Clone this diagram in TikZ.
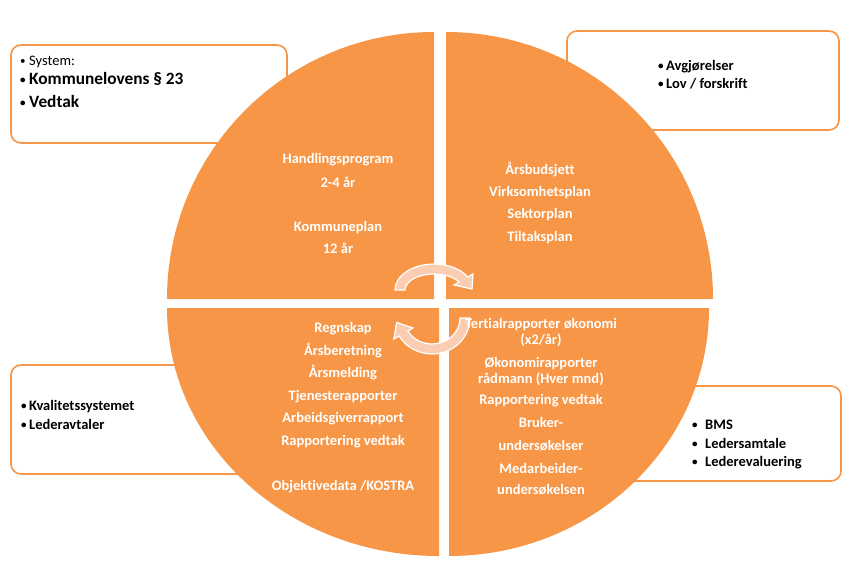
\documentclass[tikz,border=0pt]{standalone}
\usepackage{fontspec}
\setmainfont{Carlito}[Ligatures={NoCommon}]
\definecolor{qorange}{HTML}{F79646}
\definecolor{apeach}{HTML}{FBCDB3}
\newcommand{\bul}[1]{\makebox[#1][l]{\raisebox{0.9pt}{\fontsize{11}{11}\selectfont •}}}
\begin{document}
\begin{tikzpicture}[x=1pt,y=-1pt,
  quad/.style={fill=qorange},
  infobox/.style={draw=qorange,line width=1.6pt,rounded corners=10pt,fill=white,inner sep=0pt},
  qtext/.style={font=\bfseries\fontsize{14.5}{17}\selectfont,text=white,inner sep=0pt,text height=0.65em,text depth=0.22em,anchor=center,yshift=-3pt},
  btext/.style={font=\bfseries\fontsize{14.5}{17}\selectfont,text=black,inner sep=0pt,text height=0.65em,text depth=0.22em,anchor=west,yshift=-3pt},
  bbig/.style={btext,font=\bfseries\fontsize{17.3}{20}\selectfont},
  breg/.style={btext,font=\fontsize{14.5}{17}\selectfont},
  cyc/.style={fill=apeach,draw=white,line width=1.2pt}]
\useasboundingbox (0,0) rectangle (843,570);
% info boxes (behind the circle)
\node[infobox,minimum width=276pt,minimum height=98pt] (b1) at (149,94) {};
\node[infobox,minimum width=272pt,minimum height=99pt] (b2) at (703,80.5) {};
\node[infobox,minimum width=249pt,minimum height=109pt] (b3) at (135.5,419.5) {};
\node[infobox,minimum width=221pt,minimum height=95pt] (b4) at (730.5,433.5) {};
% quadrants
\fill[quad] (434,299) -- (167,299) arc[start angle=180,end angle=270,radius=267] -- cycle;
\fill[quad] (446,299) -- (446,32) arc[start angle=270,end angle=360,radius=267] -- cycle;
\fill[quad] (439,308) -- (167,308) arc[start angle=180,end angle=90,x radius=272,y radius=248] -- cycle;
\fill[quad] (449,308) -- (709,308) arc[start angle=0,end angle=90,x radius=260,y radius=248] -- cycle;
% cycle arrows
\begin{scope}[shift={(434,290)}]
\filldraw[cyc] (180:39 and 26) arc[start angle=180,end angle=330,x radius=39,y radius=26]
  -- (330:45 and 32) -- (472-434,289-290) -- (330:23 and 10) -- (330:29 and 16)
  arc[start angle=330,end angle=180,x radius=29,y radius=16] -- cycle;
\end{scope}
\begin{scope}[shift={(432,318)}]
\filldraw[cyc] (0:38 and 36) arc[start angle=0,end angle=150,x radius=38,y radius=36]
  -- (150:44 and 42) -- (397.6-433,322.4-318) -- (150:22 and 20) -- (150:28 and 26)
  arc[start angle=150,end angle=0,x radius=28,y radius=26] -- cycle;
\end{scope}
% quadrant texts
\node[qtext] (tl1) at (338,158) {Handlingsprogram};
\node[qtext] (tl2) at (338,182) {2-4 år};
\node[qtext] (tl3) at (338,226) {Kommuneplan};
\node[qtext] (tl4) at (338,248) {12 år};
\node[qtext] (tr1) at (540,169) {Årsbudsjett};
\node[qtext] (tr2) at (540,191) {Virksomhetsplan};
\node[qtext] (tr3) at (540,213) {Sektorplan};
\node[qtext] (tr4) at (540,236) {Tiltaksplan};
\node[qtext] (bl1) at (343,327) {Regnskap};
\node[qtext] (bl2) at (343,350) {Årsberetning};
\node[qtext] (bl3) at (343,372) {Årsmelding};
\node[qtext] (bl4) at (343,395) {Tjenesterapporter};
\node[qtext] (bl5) at (343,417) {Arbeidsgiverrapport};
\node[qtext] (bl6) at (343,440) {Rapportering vedtak};
\node[qtext] (bl7) at (343,485) {Objektivedata /KOSTRA};
\node[qtext] (br1) at (541,323) {Tertialrapporter økonomi};
\node[qtext] (br2) at (541,339) {(x2/år)};
\node[qtext] (br3) at (541,362) {Økonomirapporter};
\node[qtext] (br4) at (541,378) {rådmann (Hver mnd)};
\node[qtext] (br5) at (541,399) {Rapportering vedtak};
\node[qtext] (br6) at (541,422) {Bruker-};
\node[qtext] (br7) at (541,445) {undersøkelser};
\node[qtext] (br8) at (541,468) {Medarbeider-};
\node[qtext] (br9) at (541,489) {undersøkelsen};
% box texts
\node[breg] (t11) at (20,60) {\bul{9pt}System:};
\node[bbig] (t12) at (20,79) {\bul{9pt}Kommunelovens § 23};
\node[bbig] (t13) at (20,102) {\bul{9pt}Vedtak};
\node[btext] (t21) at (658,65) {\bul{8pt}Avgjørelser};
\node[btext] (t22) at (658,83) {\bul{8pt}Lov / forskrift};
\node[btext] (t31) at (21,405) {\bul{8pt}Kvalitetssystemet};
\node[btext] (t32) at (21,424) {\bul{8pt}Lederavtaler};
\node[btext] (t41) at (692,424) {\bul{13pt}BMS};
\node[btext] (t42) at (692,443) {\bul{13pt}Ledersamtale};
\node[btext] (t43) at (692,461) {\bul{13pt}Lederevaluering};
\end{tikzpicture}
\end{document}
